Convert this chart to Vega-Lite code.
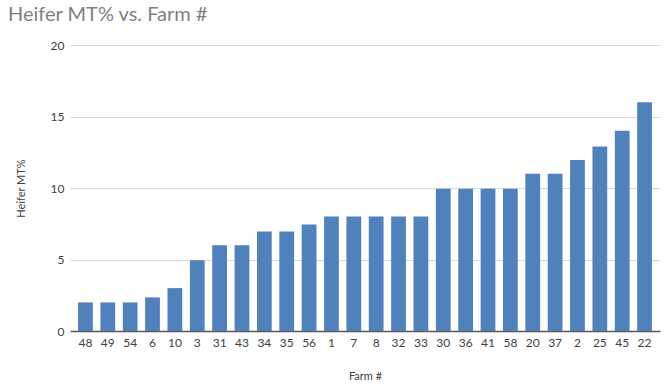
{
  "$schema": "https://vega.github.io/schema/vega-lite/v6.json",
  "width": 590,
  "height": 286,
  "autosize": {"type": "none"},
  "padding": {"left": 70, "top": 45, "right": 8, "bottom": 59},
  "background": "white",
  "title": {
    "text": "Heifer MT% vs. Farm #",
    "anchor": "start",
    "frame": "group",
    "dx": -62,
    "offset": 14,
    "fontSize": 20,
    "font": "Lato",
    "fontWeight": "normal",
    "color": "#7f7f7f"
  },
  "config": {
    "view": {"stroke": null},
    "font": "Lato"
  },
  "data": {
    "values": [
      {"farm": "48", "mt": 2},
      {"farm": "49", "mt": 2},
      {"farm": "54", "mt": 2},
      {"farm": "6", "mt": 2.35},
      {"farm": "10", "mt": 3},
      {"farm": "3", "mt": 4.95},
      {"farm": "31", "mt": 6},
      {"farm": "43", "mt": 6},
      {"farm": "34", "mt": 6.95},
      {"farm": "35", "mt": 6.95},
      {"farm": "56", "mt": 7.45},
      {"farm": "1", "mt": 8},
      {"farm": "7", "mt": 8},
      {"farm": "8", "mt": 8},
      {"farm": "32", "mt": 8},
      {"farm": "33", "mt": 8},
      {"farm": "30", "mt": 9.95},
      {"farm": "36", "mt": 9.95},
      {"farm": "41", "mt": 9.95},
      {"farm": "58", "mt": 9.95},
      {"farm": "20", "mt": 11},
      {"farm": "37", "mt": 11},
      {"farm": "2", "mt": 11.95},
      {"farm": "25", "mt": 12.9},
      {"farm": "45", "mt": 14},
      {"farm": "22", "mt": 16}
    ]
  },
  "mark": {"type": "bar", "color": "#4f81bd"},
  "encoding": {
    "x": {
      "field": "farm",
      "type": "nominal",
      "sort": null,
      "scale": {"paddingInner": 0.34, "paddingOuter": 0.36},
      "axis": {
        "title": "Farm #",
        "titleFontSize": 11,
        "titleFontWeight": "normal",
        "titleColor": "#404040",
        "titlePadding": 22,
        "labelAngle": 0,
        "labelFontSize": 12,
        "labelColor": "#404040",
        "labelPadding": 6,
        "ticks": false,
        "domainColor": "#595959",
        "domainWidth": 1.5,
        "grid": false
      }
    },
    "y": {
      "field": "mt",
      "type": "quantitative",
      "scale": {"domain": [0, 20]},
      "axis": {
        "title": "Heifer MT%",
        "titleFontSize": 11,
        "titleFontWeight": "normal",
        "titleColor": "#404040",
        "titlePadding": 24,
        "values": [0, 5, 10, 15, 20],
        "labelFontSize": 12,
        "labelColor": "#404040",
        "labelPadding": 6,
        "ticks": false,
        "domain": false,
        "gridColor": "#d9d9d9",
        "gridWidth": 1.2
      }
    }
  }
}
